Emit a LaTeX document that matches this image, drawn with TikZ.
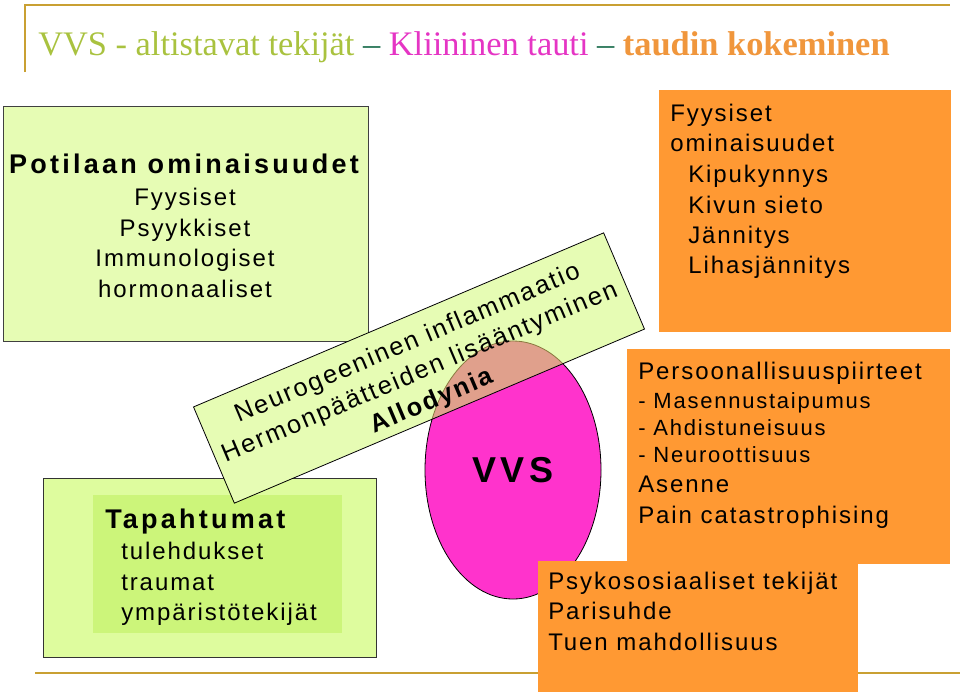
\documentclass[tikz,border=0pt]{standalone}
\usepackage{fontspec}
\setmainfont{Liberation Sans}
\newfontfamily\ttlfont{Liberation Serif}
\newfontfamily\regfont{Liberation Sans}[LetterSpace=8]
\newfontfamily\bldfont{Liberation Sans}[LetterSpace=12]
\usetikzlibrary{shapes.geometric,fit}
\definecolor{gold}{HTML}{C9A032}
\definecolor{pgreen}{HTML}{E6FCB4}
\definecolor{bgreen}{HTML}{DEFC9E}
\definecolor{igreen}{HTML}{CCF57A}
\definecolor{orng}{HTML}{FF9933}
\definecolor{vmag}{HTML}{FF33CC}
\definecolor{salmon}{HTML}{E0A08C}
\definecolor{olivel}{HTML}{8A7A40}
\definecolor{tgreen}{HTML}{A9C23F}
\definecolor{tdash}{HTML}{1F6F50}
\definecolor{tmag}{HTML}{E535C4}
\definecolor{torange}{HTML}{F0963C}
\begin{document}
\begin{tikzpicture}[x=0.75pt,y=-0.75pt,
  goldline/.style={draw=gold,line width=2pt},
  rbox/.style={inner sep=0pt,draw=none},
  rtxt/.style={anchor=base west,inner sep=0pt,font=\regfont\fontsize{18pt}{23pt}\selectfont},
  ctxt/.style={anchor=base,inner sep=0pt,font=\regfont\fontsize{18pt}{23pt}\selectfont},
  stxt/.style={anchor=base west,inner sep=0pt,font=\regfont\fontsize{16.5pt}{20pt}\selectfont},
  btxt/.style={inner sep=0pt,font=\bldfont\bfseries\fontsize{20.25pt}{24pt}\selectfont}]
\useasboundingbox (0,0) rectangle (960,697);
% frame lines
\coordinate (g1) at (25,72);
\coordinate (g2) at (25,5);
\coordinate (g3) at (950,5);
\coordinate (g4) at (35,673);
\coordinate (g5) at (960,673);
\draw[goldline,line width=2.2pt] (g1) -- (g2) -- (g3);
\draw[goldline] (g4) -- (g5);
% title
\node[anchor=base west,inner sep=0pt,font=\ttlfont\fontsize{25.8pt}{30pt}\selectfont] (title) at (38,55)
  {\textcolor{tgreen}{VVS - altistavat tekijät} \textcolor{tdash}{–} \textcolor{tmag}{Kliininen tauti} \textcolor{tdash}{–} \textcolor{torange}{\bfseries taudin kokeminen}};
% top-left box
\node[rbox,fill=pgreen,draw=black!75,line width=0.6pt,fit={(3,106) (368,341)}] (pot) {};
\node[btxt,anchor=base] (p0) at (184,173) {Potilaan ominaisuudet};
\node[ctxt] (p1) at (185,205) {Fyysiset};
\node[ctxt] (p2) at (185,236) {Psyykkiset};
\node[ctxt] (p3) at (185,266) {Immunologiset};
\node[ctxt] (p4) at (185,297) {hormonaaliset};
% bottom-left box
\node[rbox,fill=bgreen,draw=black!80,line width=0.6pt,fit={(43,478) (376,657)}] (tap) {};
\node[rbox,fill=igreen,fit={(93,495) (342,633)}] (tapin) {};
\node[btxt,anchor=base west] (t0) at (105,528) {Tapahtumat};
\node[rtxt] (t1) at (121,559) {tulehdukset};
\node[rtxt] (t2) at (121,590) {traumat};
\node[rtxt] (t3) at (121,620) {ympäristötekijät};
% VVS ellipse
\node[ellipse,draw=black,line width=0.6pt,fill=vmag,minimum width=132pt,minimum height=193.5pt,inner sep=0pt,
  font=\bldfont\bfseries\fontsize{27pt}{27pt}\selectfont] (vvs) at (513,470) {VVS};
% rotated box
\node[rotate=23,fill=pgreen,minimum width=333.75pt,minimum height=78pt,inner sep=0pt] (nb) at (419,368) {};
\begin{scope}
  \clip (nb.north west) -- (nb.north east) -- (nb.south east) -- (nb.south west) -- cycle;
  \filldraw[fill=salmon,draw=olivel,line width=0.6pt] (vvs.center) ellipse [x radius=66pt,y radius=96.75pt];
\end{scope}
\draw[black,line width=0.6pt] (nb.north west) -- (nb.north east) -- (nb.south east) -- (nb.south west) -- cycle;
\node[rotate=23,align=center,inner sep=0pt,font=\regfont\fontsize{19pt}{23.5pt}\selectfont] (nt) at (420,373)
  {Neurogeeninen inflammaatio\\Hermonpäätteiden lisääntyminen\\{\bfseries Allodynia}};
% orange boxes
\node[rbox,fill=orng,fit={(659,90) (951,332)}] (fys) {};
\node[rtxt] (f1) at (670,121) {Fyysiset};
\node[rtxt] (f2) at (670,151) {ominaisuudet};
\node[rtxt] (f3) at (688,182) {Kipukynnys};
\node[rtxt] (f4) at (688,213) {Kivun sieto};
\node[rtxt] (f5) at (688,243) {Jännitys};
\node[rtxt] (f6) at (688,273) {Lihasjännitys};
\node[rbox,fill=orng,fit={(627,349) (950,564)}] (per) {};
\node[rtxt] (e1) at (638,379) {Persoonallisuuspiirteet};
\node[stxt] (e2) at (638,408) {- Masennustaipumus};
\node[stxt] (e3) at (638,435) {- Ahdistuneisuus};
\node[stxt] (e4) at (638,462) {- Neuroottisuus};
\node[rtxt] (e5) at (638,492) {Asenne};
\node[rtxt] (e6) at (638,523) {Pain catastrophising};
\node[rbox,fill=orng,fit={(538,561) (858,692)}] (psy) {};
\node[rtxt] (s1) at (548,589) {Psykososiaaliset tekijät};
\node[rtxt] (s2) at (548,619) {Parisuhde};
\node[rtxt] (s3) at (548,650) {Tuen mahdollisuus};
\end{tikzpicture}
\end{document}
